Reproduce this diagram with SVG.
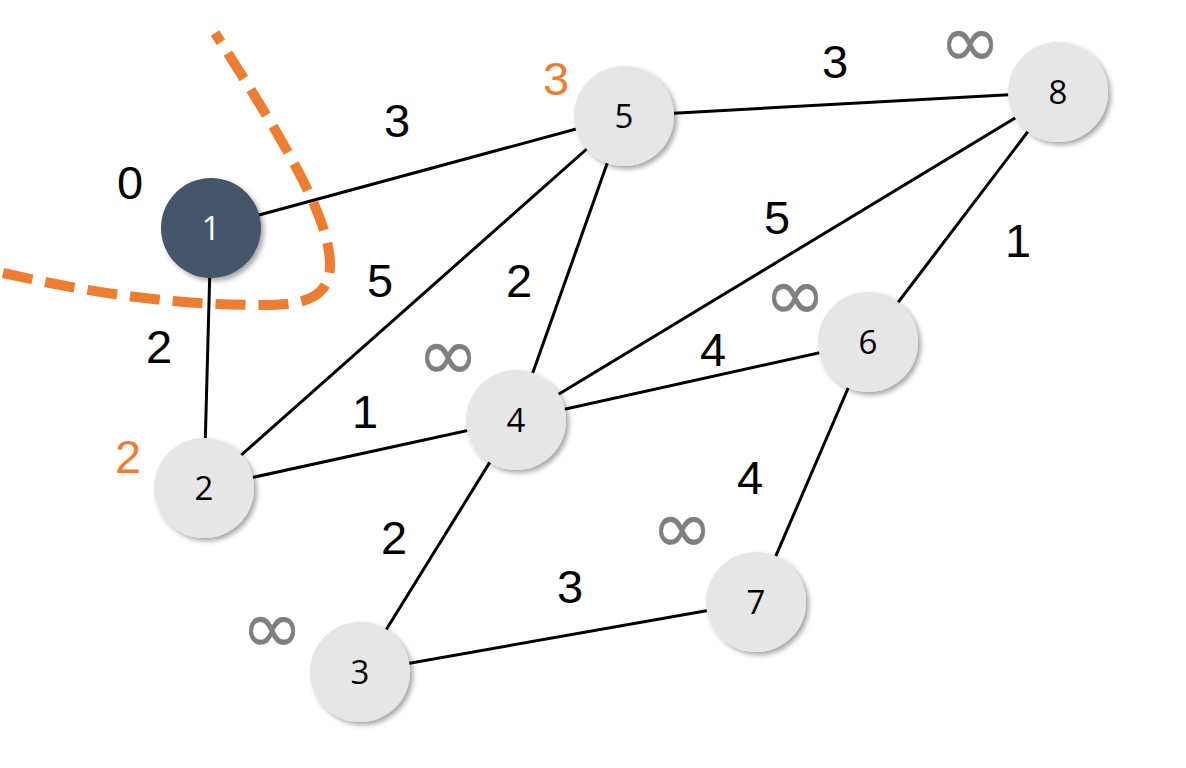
<svg xmlns="http://www.w3.org/2000/svg" width="1186" height="768" viewBox="0 0 1186 768">
<defs>
<filter id="sh" x="-30%" y="-30%" width="160%" height="160%">
<feDropShadow dx="3" dy="3" stdDeviation="2.5" flood-color="#000" flood-opacity="0.35"/>
</filter>
<style>
.edge{stroke:#000;stroke-width:3;fill:none}
.node{fill:#E6E6E6;filter:url(#sh)}
.nl{font-family:"Open Sans","Liberation Sans",sans-serif;font-size:33px;fill:#000;text-anchor:middle}
.w{font-family:"Liberation Sans",Arial,sans-serif;font-size:47px;fill:#000;text-anchor:middle}
.inf{font-family:"DejaVu Sans",sans-serif;font-size:74px;fill:#7F7F7F;stroke:#7F7F7F;stroke-width:0.4;text-anchor:middle}
</style>
</defs>
<rect width="1186" height="768" fill="#fff"/>
<g id="connectors">
<line class="edge" x1="211" y1="228" x2="624" y2="116"/>
<line class="edge" x1="211" y1="228" x2="204" y2="488"/>
<line class="edge" x1="204" y1="488" x2="624" y2="116"/>
<line class="edge" x1="204" y1="488" x2="516" y2="420"/>
<line class="edge" x1="516" y1="420" x2="624" y2="116"/>
<line class="edge" x1="516" y1="420" x2="1058" y2="92"/>
<line class="edge" x1="516" y1="420" x2="868" y2="342"/>
<line class="edge" x1="516" y1="420" x2="360" y2="672"/>
<line class="edge" x1="360" y1="672" x2="756" y2="602"/>
<line class="edge" x1="756" y1="602" x2="868" y2="342"/>
<line class="edge" x1="868" y1="342" x2="1058" y2="92"/>
<line class="edge" x1="624" y1="116" x2="1058" y2="92"/>
</g>
<g id="node1"><circle cx="211" cy="228" r="50" fill="#44546A" filter="url(#sh)"/><text class="nl" x="211" y="240" style="fill:#fff">1</text></g>
<g id="node2"><circle class="node" cx="204" cy="488" r="50"/><text class="nl" x="204" y="500">2</text></g>
<g id="node3"><circle class="node" cx="360" cy="672" r="50"/><text class="nl" x="360" y="684">3</text></g>
<g id="node4"><circle class="node" cx="516" cy="420" r="50"/><text class="nl" x="516" y="432">4</text></g>
<g id="node5"><circle class="node" cx="624" cy="116" r="50"/><text class="nl" x="624" y="128">5</text></g>
<g id="node6"><circle class="node" cx="868" cy="342" r="50"/><text class="nl" x="868" y="354">6</text></g>
<g id="node7"><circle class="node" cx="756" cy="602" r="50"/><text class="nl" x="756" y="614">7</text></g>
<g id="node8"><circle class="node" cx="1058" cy="92" r="50"/><text class="nl" x="1058" y="104">8</text></g>
<path d="M3 273 C100 295 180 305 262 305 C300 305 330 300 330 265 C330 220 290 150 215 33" fill="none" stroke="#ED7D31" stroke-width="10" stroke-dasharray="30 13"/>
<g id="weights">
<text class="w" x="397" y="137">3</text>
<text class="w" x="380" y="297">5</text>
<text class="w" x="159" y="363">2</text>
<text class="w" x="365" y="428">1</text>
<text class="w" x="519" y="297">2</text>
<text class="w" x="777" y="234">5</text>
<text class="w" x="713" y="366">4</text>
<text class="w" x="1018" y="257">1</text>
<text class="w" x="835" y="78">3</text>
<text class="w" x="750" y="494">4</text>
<text class="w" x="394" y="554">2</text>
<text class="w" x="570" y="603">3</text>
</g>
<g id="distances">
<text class="w" x="130" y="199">0</text>
<text class="w" x="556" y="95" style="fill:#ED7D31">3</text>
<text class="w" x="128" y="473" style="fill:#ED7D31">2</text>
<text class="inf" x="970" y="67">∞</text>
<text class="inf" x="795" y="320">∞</text>
<text class="inf" x="448" y="380">∞</text>
<text class="inf" x="682" y="553">∞</text>
<text class="inf" x="272" y="653">∞</text>
</g>
</svg>
